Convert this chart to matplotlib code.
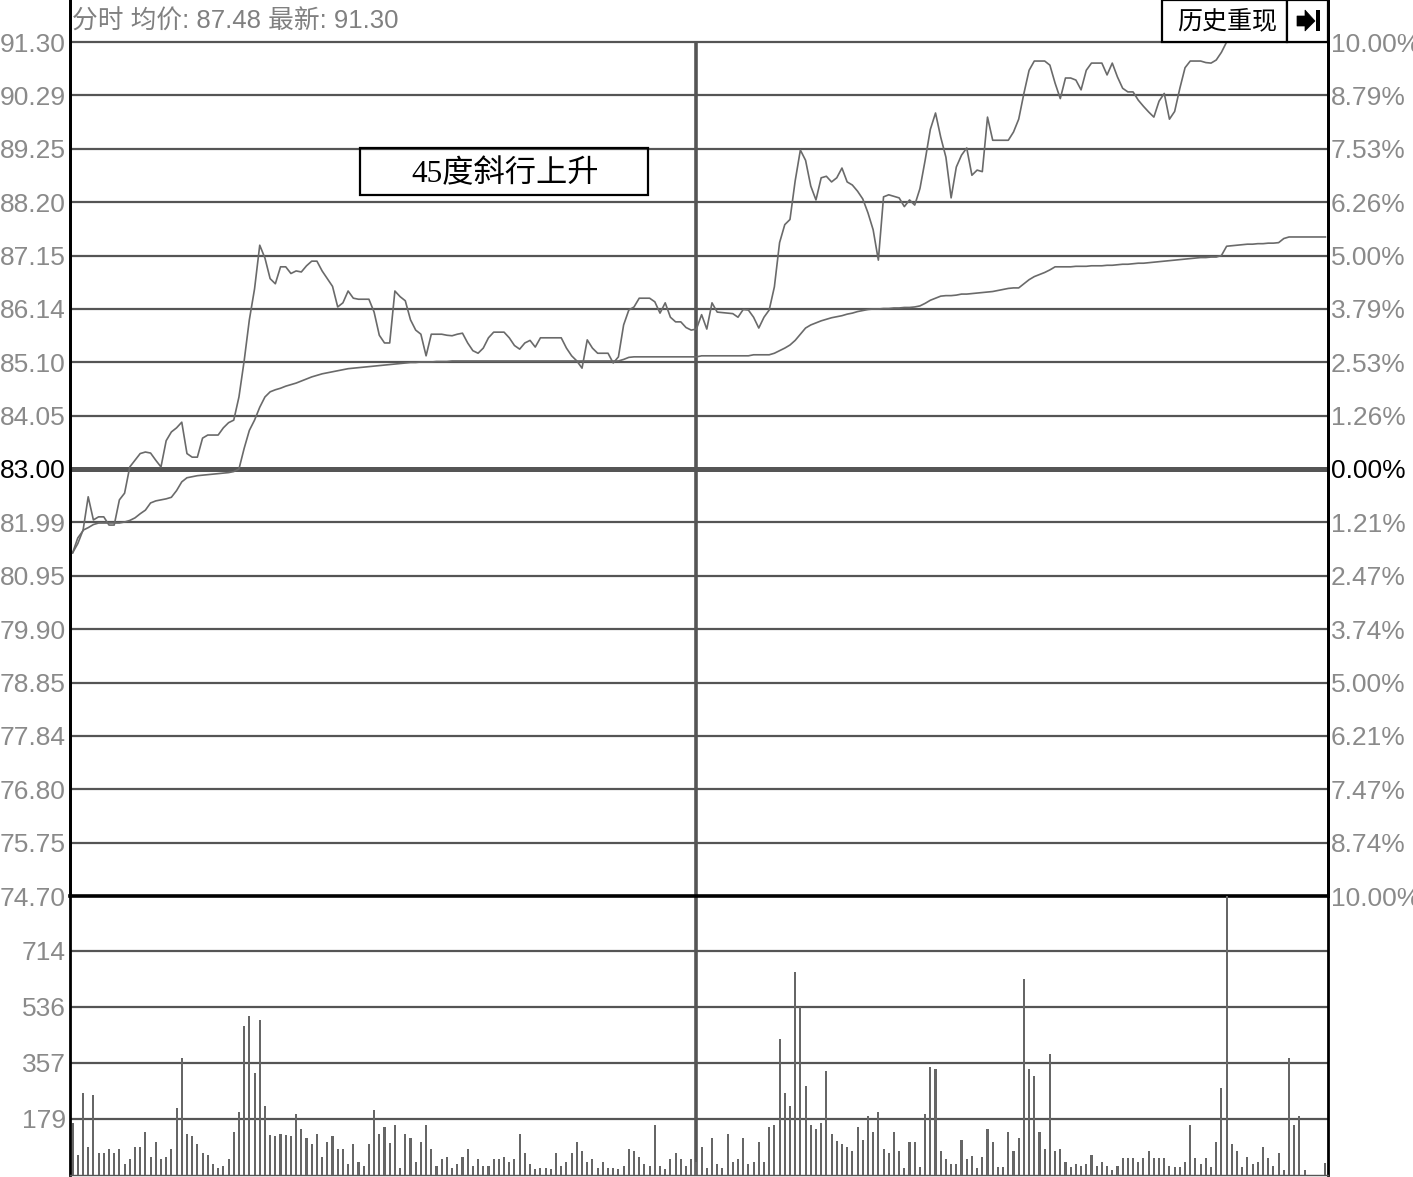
import numpy as np
import matplotlib
matplotlib.use('Agg')
import matplotlib.pyplot as plt
from matplotlib.patches import Rectangle, Polygon

plt.rcParams['font.family'] = ['Liberation Sans', 'Noto Sans CJK SC', 'DejaVu Sans']

# ---- data (one slot per trading minute, 242 slots: 121 morning + 121 afternoon) ----
price_am = [81.37, 81.66, 81.80, 82.46, 82.01, 82.07, 82.07, 81.91, 81.91, 82.40,
            82.53, 83.04, 83.17, 83.30, 83.33, 83.31, 83.17, 83.04, 83.55, 83.72,
            83.80, 83.91, 83.30, 83.23, 83.23, 83.60, 83.66, 83.66, 83.66, 83.80,
            83.90, 83.95, 84.40, 85.10, 85.90, 86.50, 87.35, 87.10, 86.70, 86.60,
            86.93, 86.93, 86.80, 86.85, 86.83, 86.95, 87.04, 87.04, 86.85, 86.70,
            86.55, 86.15, 86.23, 86.46, 86.32, 86.30, 86.30, 86.30, 86.05, 85.60,
            85.45, 85.45, 86.46, 86.35, 86.27, 85.90, 85.70, 85.62, 85.20, 85.62,
            85.62, 85.62, 85.60, 85.59, 85.62, 85.64, 85.45, 85.30, 85.25, 85.35,
            85.55, 85.66, 85.66, 85.66, 85.55, 85.40, 85.33, 85.45, 85.50, 85.37,
            85.55, 85.55, 85.55, 85.55, 85.55, 85.35, 85.20, 85.10, 84.96, 85.51,
            85.35, 85.25, 85.25, 85.25, 85.06, 85.18, 85.80, 86.09, 86.15, 86.32,
            86.32, 86.32, 86.25, 86.03, 86.23, 85.95, 85.86, 85.86, 85.75, 85.70,
            85.72]
price_pm = [86.00, 85.72, 86.23, 86.05, 86.04, 86.03, 86.02, 85.95, 86.10,
            86.09, 85.95, 85.74, 85.95, 86.09, 86.54, 87.40, 87.75, 87.85, 88.60,
            89.20, 89.00, 88.50, 88.23, 88.66, 88.69, 88.58, 88.66, 88.85, 88.58,
            88.52, 88.40, 88.25, 87.98, 87.65, 87.06, 88.29, 88.33, 88.30, 88.27,
            88.10, 88.23, 88.13, 88.45, 89.00, 89.60, 89.92, 89.45, 89.06, 88.27,
            88.87, 89.10, 89.24, 88.71, 88.81, 88.78, 89.84, 89.39, 89.39, 89.39,
            89.39, 89.55, 89.80, 90.30, 90.75, 90.93, 90.93, 90.93, 90.85, 90.50,
            90.20, 90.60, 90.60, 90.56, 90.37, 90.75, 90.89, 90.89, 90.89, 90.66,
            90.89, 90.62, 90.40, 90.33, 90.33, 90.17, 90.05, 89.94, 89.84, 90.15,
            90.30, 89.80, 89.95, 90.40, 90.80, 90.93, 90.93, 90.93, 90.90, 90.89,
            90.95, 91.10, 91.30, 91.30, 91.30, 91.30, 91.30, 91.30, 91.30, 91.30,
            91.30, 91.30, 91.30, 91.30, 91.30, 91.30, 91.30, 91.30, 91.30, 91.30,
            91.30, 91.30]

avg_price = [81.37, 81.55, 81.81, 81.86, 81.92, 81.95, 81.95, 81.95, 81.95, 81.95,
             81.97, 82.00, 82.05, 82.13, 82.20, 82.34, 82.38, 82.40, 82.42, 82.45,
             82.58, 82.75, 82.83, 82.85, 82.87, 82.88, 82.89, 82.90, 82.91, 82.92,
             82.93, 82.95, 83.00, 83.40, 83.75, 83.95, 84.20, 84.40, 84.50, 84.54,
             84.57, 84.61, 84.64, 84.67, 84.71, 84.75, 84.79, 84.82, 84.85, 84.87,
             84.89, 84.91, 84.93, 84.95, 84.96, 84.97, 84.98, 84.99, 85.00, 85.01,
             85.02, 85.03, 85.04, 85.05, 85.06, 85.07, 85.07, 85.08, 85.08, 85.08,
             85.09, 85.09, 85.09, 85.10, 85.10, 85.10, 85.10, 85.10, 85.10, 85.10,
             85.10, 85.10, 85.10, 85.10, 85.10, 85.10, 85.10, 85.10, 85.10, 85.10,
             85.10, 85.10, 85.10, 85.10, 85.10, 85.10, 85.10, 85.10, 85.10, 85.10,
             85.10, 85.10, 85.10, 85.10, 85.10, 85.10, 85.13, 85.17, 85.18, 85.18,
             85.18, 85.18, 85.18, 85.18, 85.18, 85.18, 85.18, 85.18, 85.18, 85.18,
             85.18, 85.20, 85.20, 85.20, 85.20, 85.20, 85.20, 85.20, 85.20, 85.20,
             85.20, 85.22, 85.22, 85.22, 85.22, 85.25, 85.30, 85.35, 85.41, 85.50,
             85.62, 85.74, 85.80, 85.84, 85.88, 85.91, 85.94, 85.96, 85.98, 86.01,
             86.03, 86.06, 86.08, 86.10, 86.11, 86.11, 86.12, 86.12, 86.13, 86.13,
             86.14, 86.14, 86.15, 86.17, 86.22, 86.28, 86.32, 86.36, 86.37, 86.37,
             86.38, 86.40, 86.40, 86.41, 86.42, 86.43, 86.44, 86.45, 86.47, 86.49,
             86.51, 86.52, 86.52, 86.60, 86.68, 86.74, 86.78, 86.82, 86.87, 86.93,
             86.93, 86.93, 86.93, 86.94, 86.94, 86.94, 86.95, 86.95, 86.95, 86.96,
             86.96, 86.97, 86.98, 86.98, 86.99, 87.00, 87.00, 87.01, 87.02, 87.03,
             87.04, 87.05, 87.06, 87.07, 87.08, 87.09, 87.10, 87.11, 87.11, 87.12,
             87.12, 87.15, 87.33, 87.34, 87.35, 87.36, 87.37, 87.37, 87.38, 87.38,
             87.39, 87.39, 87.40, 87.48, 87.51, 87.51, 87.51, 87.51, 87.51, 87.51,
             87.51, 87.51]

volume = [166, 64, 262, 89, 255, 70, 70, 83, 70, 83,
          35, 51, 89, 89, 137, 57, 105, 51, 57, 83,
          214, 373, 131, 124, 99, 70, 64, 35, 22, 29,
          51, 137, 201, 475, 507, 325, 494, 220, 128, 124,
          131, 128, 124, 195, 147, 118, 99, 131, 57, 105,
          124, 83, 83, 35, 99, 41, 29, 99, 207, 131,
          153, 102, 160, 22, 131, 118, 41, 105, 160, 83,
          29, 51, 57, 22, 35, 57, 83, 29, 51, 29,
          29, 51, 51, 57, 41, 51, 131, 70, 35, 19,
          22, 22, 19, 70, 29, 41, 70, 105, 76, 41,
          51, 22, 41, 22, 22, 19, 29, 83, 76, 57,
          35, 29, 160, 29, 19, 51, 70, 51, 29, 51,
          40,
          88, 21, 117, 34, 21, 131, 40, 50, 117,
          34, 40, 104, 40, 152, 159, 433, 260, 220, 646,
          535, 284, 159, 146, 165, 332, 131, 109, 98, 88,
          75, 152, 112, 188, 136, 200, 82, 69, 136, 75,
          21, 104, 104, 27, 195, 343, 337, 75, 50, 34,
          34, 112, 50, 62, 21, 56, 146, 104, 27, 27,
          136, 75, 117, 625, 337, 316, 136, 83, 386, 77,
          83, 43, 24, 35, 29, 35, 64, 29, 43, 29,
          16, 29, 53, 53, 53, 43, 53, 78, 53, 53,
          53, 29, 24, 24, 43, 159, 53, 35, 53, 24,
          106, 276, 888, 99, 78, 24, 58, 35, 43, 90,
          53, 30, 71, 16, 372, 159, 188, 16, 0, 0,
          0, 37]

left_labels = ['91.30', '90.29', '89.25', '88.20', '87.15', '86.14', '85.10', '84.05',
               '83.00', '81.99', '80.95', '79.90', '78.85', '77.84', '76.80', '75.75', '74.70']
right_labels = ['10.00%', '8.79%', '7.53%', '6.26%', '5.00%', '3.79%', '2.53%', '1.26%',
                '0.00%', '1.21%', '2.47%', '3.74%', '5.00%', '6.21%', '7.47%', '8.74%', '10.00%']
vol_ticks = [179, 357, 536, 714]
prev_close = 83.00
price_hi, price_lo = 91.30, 74.70

price = price_am + price_pm
t = np.arange(len(price))
n = len(price)
noon = len(price_am) - 1

W, H = 1413, 1177
GRID = '#555555'
LINE = '#6a6a6a'
LABEL = '#8a8a8a'
FS = 19

fig = plt.figure(figsize=(W / 100, H / 100), dpi=100)
fig.patch.set_facecolor('white')

# price panel spans the header strip too, so its side borders reach the top edge
ax = fig.add_axes([70 / W, 1 - 896 / H, 1258 / W, 896 / H])
px_per_unit = 854 / (price_hi - price_lo)
ax.set_ylim(price_lo, price_hi + 42 / px_per_unit)
ax.set_xlim(-0.5, n - 0.5)

ticks = np.linspace(price_hi, price_lo, len(left_labels))
for y in ticks:
    if np.isclose(y, prev_close):
        ax.axhline(y, color=GRID, lw=3.6, zorder=1)
    elif np.isclose(y, price_lo):
        continue
    else:
        ax.axhline(y, color=GRID, lw=1.6, zorder=1)
ax.vlines(noon, price_lo, price_hi, color=GRID, lw=2.6, zorder=1)

ax.plot(t, price, color=LINE, lw=1.2, zorder=3)
ax.plot(t, avg_price, color=LINE, lw=1.2, zorder=3)

ax.set_yticks(ticks, left_labels)
ax.tick_params(axis='y', length=0, pad=3, labelsize=FS, labelcolor=LABEL)
ax.set_xticks([])
for lab in ax.get_yticklabels():
    if lab.get_text() == '83.00':
        lab.set_color('black')

ax2 = ax.twinx()
ax2.set_ylim(ax.get_ylim())
ax2.set_yticks(ticks, right_labels)
ax2.tick_params(axis='y', length=0, pad=2, labelsize=FS, labelcolor=LABEL)
for lab in ax2.get_yticklabels():
    if lab.get_text() == '0.00%':
        lab.set_color('black')

for a in (ax, ax2):
    a.spines['top'].set_visible(False)
    a.spines['bottom'].set_visible(False)
    a.spines['left'].set_color('black')
    a.spines['right'].set_color('black')
    a.spines['left'].set_linewidth(2)
    a.spines['right'].set_linewidth(2)
    a.set_facecolor('none')

ax.text(2 / 1258, 1 - 22 / 896, '分时 均价: 87.48 最新: 91.30', transform=ax.transAxes,
        ha='left', va='center', fontsize=18.5, color='#808080')

# annotation box
ax.add_patch(Rectangle(((360 - 70) / 1258, (896 - 195) / 896), 288 / 1258, 47 / 896,
                       transform=ax.transAxes, fill=False, ec='black', lw=1.6, zorder=5))
ax.text((505 - 70) / 1258, (896 - 174) / 896, '45度斜行上升', transform=ax.transAxes,
        ha='center', va='center', fontsize=22.5, color='black',
        family=['Liberation Serif', 'Noto Sans CJK SC'], zorder=6)

# volume panel
axv = fig.add_axes([70 / W, 1 - 1175 / H, 1258 / W, 279 / H])
axv.set_xlim(-0.5, n - 0.5)
axv.set_ylim(0, 279 * 178.5 / 56)
for v in vol_ticks:
    axv.axhline(v, color=GRID, lw=1.6, zorder=1)
axv.axvline(noon, color=GRID, lw=2.6, zorder=1)
axv.bar(t, volume, width=0.4, color='#666666', zorder=3)
axv.set_yticks(vol_ticks, [str(v) for v in vol_ticks])
axv.tick_params(axis='y', length=0, pad=3, labelsize=FS, labelcolor=LABEL)
axv.set_xticks([])
axv.spines['top'].set_linewidth(2.6)
axv.spines['top'].set_color('black')
axv.spines['left'].set_linewidth(2)
axv.spines['right'].set_linewidth(2)
axv.spines['bottom'].set_linewidth(1)
axv.spines['bottom'].set_color('#555555')
axv.set_facecolor('none')

# header buttons
def fx(x, y):
    return (x / W, 1 - y / H)

fig.patches.append(Rectangle(fx(1162, 42), 125 / W, 42 / H, transform=fig.transFigure,
                             fill=True, fc='white', ec='black', lw=1.6, zorder=5))
fig.patches.append(Rectangle(fx(1287, 42), 41 / W, 42 / H, transform=fig.transFigure,
                             fill=True, fc='white', ec='black', lw=1.6, zorder=5))
fig.text(1227 / W, 1 - 21 / H, '历史重现', ha='center', va='center', fontsize=18,
         color='black', zorder=6)
arrow = [fx(1297, 16), fx(1305, 16), fx(1305, 10), fx(1315, 21), fx(1305, 31),
         fx(1305, 26), fx(1297, 26)]
fig.patches.append(Polygon(arrow, closed=True, transform=fig.transFigure,
                           fc='black', ec='black', lw=0.5, zorder=6))
fig.patches.append(Rectangle(fx(1316, 31), 4 / W, 21 / H, transform=fig.transFigure,
                             fc='black', ec='black', lw=0, zorder=6))

fig.savefig('out.png', dpi=100, facecolor='white')
